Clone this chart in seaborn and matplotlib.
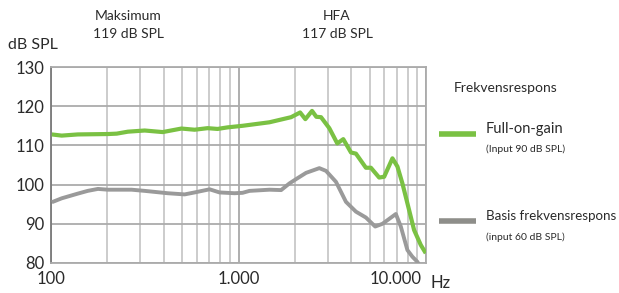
import matplotlib
matplotlib.use("Agg")
import matplotlib.pyplot as plt
import seaborn as sns
import pandas as pd
from matplotlib.ticker import FixedLocator, NullFormatter

# Data
full_freq = [101, 114, 139, 201, 224, 257, 316, 394, 496, 583, 684, 773, 874, 1050,
             1462, 1907, 2130, 2272, 2466, 2599, 2754, 3048, 3362, 3619, 3977, 4227,
             4778, 5079, 5623, 5978, 6618, 7037, 7480, 8121, 8635, 9372, 9964]
full_db = [112.8, 112.5, 112.8, 112.9, 113.0, 113.5, 113.8, 113.4, 114.3, 114.0, 114.4,
           114.2, 114.6, 115.0, 115.9, 117.2, 118.4, 116.7, 118.8, 117.3, 117.2, 114.4,
           110.5, 111.6, 108.2, 107.9, 104.3, 104.3, 101.8, 102.0, 106.7, 104.6, 100.3,
           93.5, 88.4, 84.6, 82.5]

basis_freq = [101, 114, 139, 157, 178, 201, 269, 316, 419, 516, 583, 701, 792, 952,
              1050, 1144, 1462, 1687, 1868, 2027, 2292, 2697, 2928, 3309, 3740, 4227,
              4778, 5355, 5855, 6901, 7335, 7953, 8455, 8989, 9300]
basis_db = [95.5, 96.5, 97.7, 98.4, 98.9, 98.7, 98.7, 98.4, 97.8, 97.5, 98.0, 98.8,
            98.0, 97.8, 97.9, 98.4, 98.7, 98.6, 100.3, 101.4, 103.0, 104.2, 103.5, 100.7,
            95.6, 93.1, 91.6, 89.3, 90.0, 92.5, 89.3, 83.3, 81.6, 80.3, 79.0]

y_ticks = [80, 90, 100, 110, 120, 130]
x_major = [100, 1000, 10000]
x_major_labels = ["100", "1.000", "10.000"]

GREEN = "#7AC143"
GRAY = "#9A9A9A"
GRAY_LEG = "#8E8E8A"
TXT = "#2A2A2A"

sns.set_style("white")
plt.rcParams['font.family'] = ['Lato', 'DejaVu Sans']

fig = plt.figure(figsize=(6.19, 2.93), dpi=100)
ax = fig.add_axes([0.0824, 0.1024, 0.6059, 0.6689])

df_full = pd.DataFrame({"f": full_freq, "db": full_db})
df_basis = pd.DataFrame({"f": basis_freq, "db": basis_db})

sns.lineplot(data=df_basis, x="f", y="db", ax=ax, color=GRAY, linewidth=2.8,
             solid_capstyle="butt", zorder=3)
sns.lineplot(data=df_full, x="f", y="db", ax=ax, color=GREEN, linewidth=3.0,
             solid_capstyle="butt", zorder=4)

ax.set_xscale("log")
ax.set_xlim(100, 10000)
ax.set_ylim(80, 130)
ax.set_xlabel("")
ax.set_ylabel("")

minor = [v * d for d in (100, 1000) for v in range(2, 10)]
ax.xaxis.set_major_locator(FixedLocator(x_major))
ax.xaxis.set_minor_locator(FixedLocator(minor))
ax.xaxis.set_minor_formatter(NullFormatter())
ax.set_xticklabels([x_major_labels[0], x_major_labels[1], ""])
ax.set_yticks(y_ticks)
ax.set_yticklabels([str(v) for v in y_ticks])

ax.grid(True, which="minor", axis="x", color="#C8C8C8", linewidth=1.3)
ax.grid(True, which="major", axis="x", color="#A8A8A8", linewidth=1.3)
ax.grid(True, which="major", axis="y", color="#ABABAB", linewidth=1.3)
ax.set_axisbelow(True)

for side in ["top", "right", "bottom"]:
    ax.spines[side].set_color("#ABABAB")
    ax.spines[side].set_linewidth(1.3)
ax.spines["left"].set_color("#7A7A7A")
ax.spines["left"].set_linewidth(1.3)

ax.tick_params(axis="y", which="major", length=2, color="#ABABAB", labelsize=12,
               labelcolor=TXT, pad=3)
ax.tick_params(axis="x", which="both", length=0, labelsize=12, labelcolor=TXT, pad=6)

ax.annotate(x_major_labels[2], xy=(10000, 80), xycoords="data", xytext=(-3, -6),
            textcoords="offset points", ha="right", va="top", fontsize=12, color=TXT)
fig.text(430 / 619, 1 - 283 / 293, "Hz", ha="left", va="center", fontsize=12, color=TXT)

fig.text(8 / 619, 1 - 45 / 293, "dB SPL", ha="left", va="center", fontsize=11.5, color=TXT)
fig.text(128 / 619, 1 - 16 / 293, "Maksimum", ha="center", va="center", fontsize=10, color=TXT)
fig.text(128 / 619, 1 - 34 / 293, "119 dB SPL", ha="center", va="center", fontsize=10, color=TXT)
fig.text(337 / 619, 1 - 16 / 293, "HFA", ha="center", va="center", fontsize=10, color=TXT)
fig.text(337 / 619, 1 - 34 / 293, "117 dB SPL", ha="center", va="center", fontsize=10, color=TXT)

# Legend
fig.text(454 / 619, 1 - 88 / 293, "Frekvensrespons", ha="left", va="center", fontsize=10, color=TXT)
fig.add_artist(plt.Line2D([439 / 619, 476 / 619], [1 - 134 / 293, 1 - 134 / 293],
                          transform=fig.transFigure, color=GREEN, linewidth=4,
                          solid_capstyle="butt"))
fig.text(486 / 619, 1 - 129 / 293, "Full-on-gain", ha="left", va="center", fontsize=10.5, color=TXT)
fig.text(486 / 619, 1 - 149 / 293, "(Input 90 dB SPL)", ha="left", va="center", fontsize=7.5, color=TXT)
fig.add_artist(plt.Line2D([439 / 619, 476 / 619], [1 - 221 / 293, 1 - 221 / 293],
                          transform=fig.transFigure, color=GRAY_LEG, linewidth=4,
                          solid_capstyle="butt"))
fig.text(486 / 619, 1 - 216 / 293, "Basis frekvensrespons", ha="left", va="center", fontsize=9.6, color=TXT)
fig.text(486 / 619, 1 - 237 / 293, "(input 60 dB SPL)", ha="left", va="center", fontsize=7.5, color=TXT)

fig.savefig("out.png", dpi=100)
